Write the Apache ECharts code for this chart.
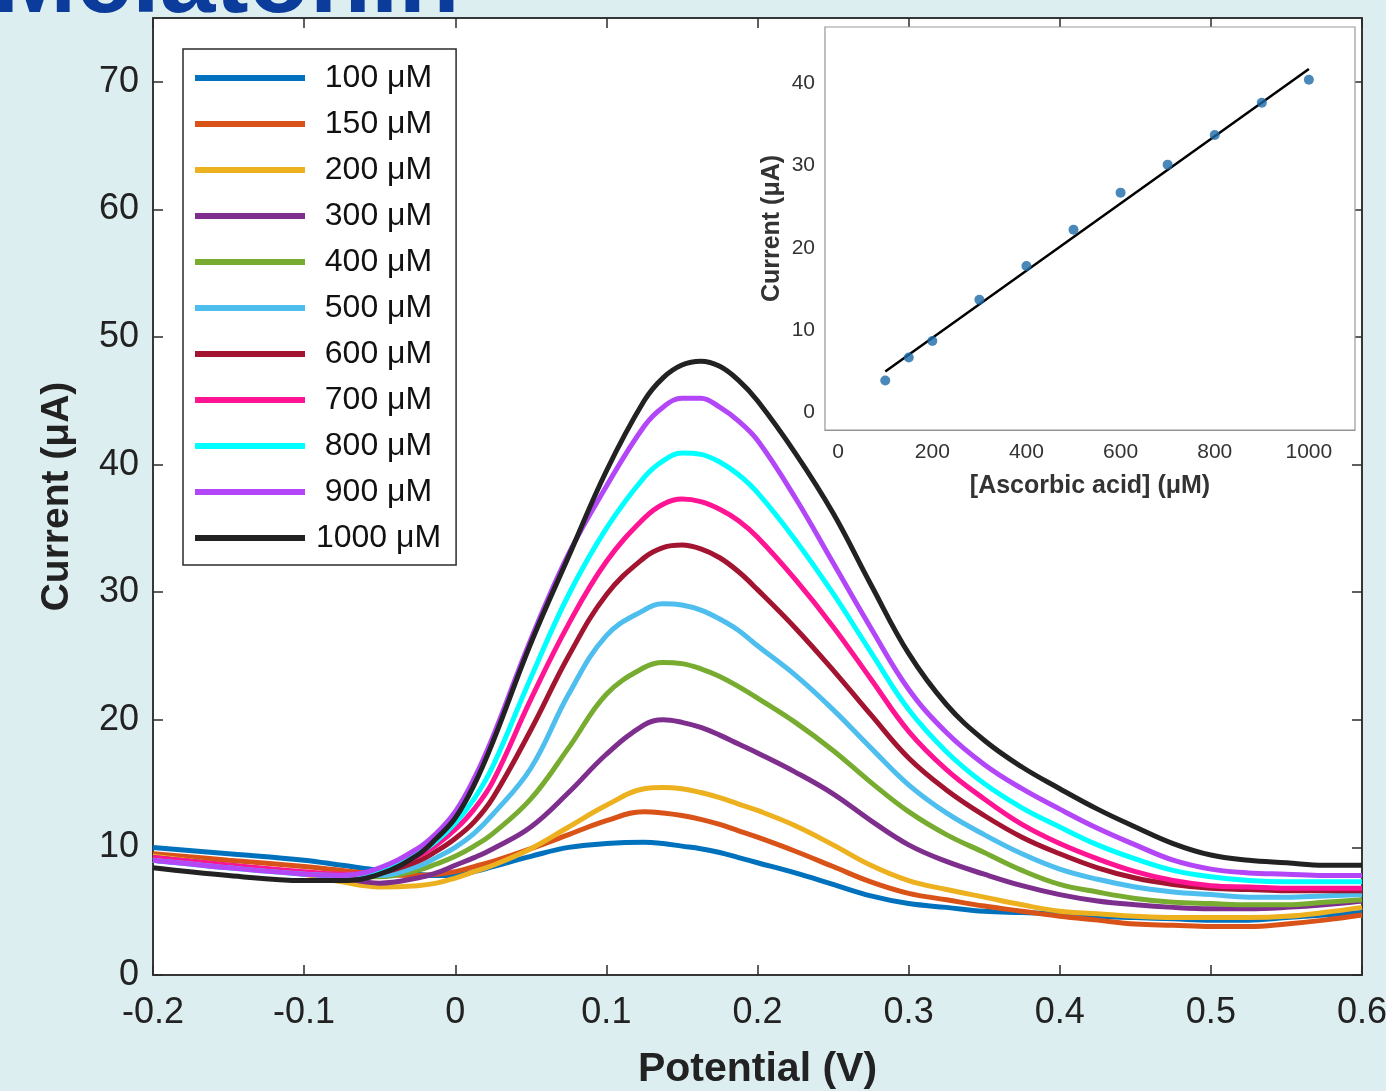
<!DOCTYPE html>
<html>
<head>
<meta charset="utf-8">
<script src="https://cdn.jsdelivr.net/npm/echarts@6/dist/echarts.min.js"></script>
<style>
html,body{margin:0;padding:0;background:#ddeef0;}
#chart{width:1386px;height:1091px;}
</style>
</head>
<body>
<div id="chart"></div>
<script>
// ---- data ----
const potential = [-0.2,-0.15,-0.1,-0.075,-0.05,-0.025,-0.0125,0,0.0125,0.025,0.05,0.075,0.1,0.125,0.1375,0.15,0.1625,0.175,0.1875,0.2,0.225,0.25,0.275,0.3,0.325,0.35,0.375,0.4,0.425,0.45,0.475,0.5,0.525,0.55,0.575,0.6];

const c100  = [10.0,9.5,9.0,8.6,8.2,7.9,7.8,7.8,8.1,8.5,9.3,10.0,10.3,10.4,10.3,10.1,9.9,9.6,9.2,8.8,8.0,7.1,6.2,5.6,5.3,5.0,4.9,4.8,4.6,4.5,4.4,4.3,4.3,4.5,4.7,4.9];
const c150  = [9.5,9.0,8.5,8.2,7.9,7.8,7.9,8.1,8.5,8.9,9.9,11.0,12.1,12.8,12.7,12.5,12.2,11.8,11.3,10.8,9.7,8.5,7.3,6.4,5.9,5.4,5.0,4.6,4.3,4.0,3.9,3.8,3.8,4.0,4.3,4.7];
const c200  = [9.3,8.6,7.9,7.3,6.9,7.0,7.2,7.6,8.1,8.6,9.9,11.6,13.3,14.6,14.7,14.6,14.3,13.9,13.4,12.9,11.7,10.2,8.6,7.4,6.7,6.1,5.5,5.0,4.8,4.6,4.5,4.5,4.5,4.6,4.9,5.3];
const c300  = [9.2,8.6,8.0,7.6,7.2,7.6,8.0,8.6,9.2,9.9,11.6,14.3,17.3,19.6,20.0,19.8,19.4,18.8,18.1,17.4,15.9,14.2,12.1,10.2,8.9,7.9,7.0,6.3,5.8,5.5,5.3,5.2,5.2,5.3,5.5,5.8];
const c400  = [9.0,8.5,8.0,7.8,7.7,8.2,8.7,9.3,10.1,11.1,13.8,17.8,22.0,24.1,24.5,24.4,24.0,23.4,22.6,21.7,19.8,17.6,15.1,12.8,11.0,9.6,8.2,7.1,6.5,6.0,5.7,5.6,5.5,5.5,5.7,5.9];
const c500  = [9.0,8.5,8.0,7.8,7.8,8.5,9.2,10.0,11.1,12.6,16.2,22.0,26.6,28.6,29.1,29.0,28.6,27.9,27.0,25.8,23.5,20.8,17.8,14.9,12.7,11.0,9.5,8.3,7.5,6.9,6.5,6.3,6.1,6.1,6.2,6.3];
const c600  = [9.0,8.5,8.0,7.8,8.0,8.9,9.7,10.7,12.0,13.9,19.2,25.0,29.8,32.7,33.5,33.7,33.4,32.7,31.6,30.2,27.2,23.9,20.4,17.0,14.5,12.5,10.8,9.5,8.4,7.6,7.1,6.8,6.7,6.6,6.6,6.6];
const c700  = [9.2,8.6,8.1,7.9,8.2,9.3,10.2,11.4,13.0,15.2,21.6,27.5,32.4,35.8,36.9,37.3,37.1,36.5,35.6,34.3,31.0,27.3,23.2,19.1,16.1,13.8,11.8,10.3,9.1,8.1,7.4,7.0,6.9,6.8,6.8,6.8];
const c800  = [9.0,8.4,7.9,7.8,8.2,9.5,10.5,11.9,13.8,16.4,23.3,29.8,35.0,39.0,40.3,40.9,40.8,40.2,39.2,37.8,34.1,29.9,25.3,20.8,17.5,15.0,13.1,11.6,10.2,9.1,8.2,7.7,7.4,7.3,7.3,7.3];
const c900  = [9.0,8.4,7.9,7.8,8.4,9.9,11.1,12.8,15.4,18.7,26.3,33.0,38.3,43.0,44.5,45.2,45.2,44.5,43.4,41.9,37.4,32.3,27.2,22.4,19.0,16.5,14.6,13.0,11.5,10.2,9.0,8.3,8.0,7.9,7.8,7.8];
const c1000 = [8.4,7.8,7.4,7.4,7.9,9.4,10.7,12.3,14.9,18.3,26.0,32.8,39.5,45.0,46.8,47.8,48.1,47.7,46.6,45.0,40.9,36.2,30.6,25.2,21.2,18.4,16.3,14.6,13.0,11.6,10.3,9.4,9.0,8.8,8.6,8.6];

const seriesNames = ['100 μM','150 μM','200 μM','300 μM','400 μM','500 μM','600 μM','700 μM','800 μM','900 μM','1000 μM'];
const seriesValues = [c100,c150,c200,c300,c400,c500,c600,c700,c800,c900,c1000];
const seriesColors = ['#0072BD','#D95319','#EDB120','#7E2F8E','#77AC30','#4DBEEE','#A2142F','#FF1493','#00FFFF','#B347F7','#222222'];

const xTicks = [-0.2,-0.1,0,0.1,0.2,0.3,0.4,0.5,0.6];
const yTicks = [0,10,20,30,40,50,60,70];

// inset: calibration
const insetConc = [100,150,200,300,400,500,600,700,800,900,1000];
const insetCurrent = [3.9,6.7,8.7,13.7,17.8,22.2,26.7,30.1,33.7,37.6,40.4];
const fitConc = [100,1000];
const fitCurrent = [5.0,41.7];
const insetXTicks = [0,200,400,600,800,1000];
const insetYTicks = [0,10,20,30,40];

// ---- chart ----
const FONT = '"Liberation Sans", Arial, sans-serif';
const chart = echarts.init(document.getElementById('chart'), null, {renderer:'canvas'});

const mainSeries = seriesNames.map((n,i)=>({
  name:n, type:'line', xAxisIndex:0, yAxisIndex:0,
  data: potential.map((v,j)=>[v, seriesValues[i][j]]),
  showSymbol:false, symbol:'none', smooth:0.4,
  color: seriesColors[i],
  lineStyle:{width:5, color:seriesColors[i]},
  z: 2 + i*0.01
}));

const dark = '#2b2b2b';
const axisDark = {onZero:false, lineStyle:{color:dark, width:1.5}};
const tickDark = {inside:true, length:10, lineStyle:{color:dark, width:1.5}};

chart.setOption({
  backgroundColor:'#ddeef0',
  animation:false,
  graphic:[{
    type:'text', left:-7, top:-66, z:10,
    style:{text:'Melatonin', font:'bold 100px '+FONT, fill:'#0b3c9c',
      shadowColor:'rgba(0,0,0,0.35)', shadowBlur:5, shadowOffsetX:3, shadowOffsetY:3}
  }],
  grid:[
    {left:153, top:18, right:24, bottom:116, show:true, backgroundColor:'#fff', borderColor:dark, borderWidth:1.5,
     outerBoundsMode:'none', containLabel:false},
    {left:825, top:27, width:530, height:403, show:true, backgroundColor:'#fff', borderColor:'#9a9a9a', borderWidth:1.2, z:5,
     outerBoundsMode:'none', containLabel:false}
  ],
  legend:{
    data:seriesNames, orient:'vertical', left:183, top:49,
    padding:[13,15,11,12], itemGap:14, itemWidth:110, itemHeight:6, icon:'rect',
    backgroundColor:'#fff', borderColor:dark, borderWidth:1.5,
    formatter: name => '{t|' + name + '}',
    textStyle:{fontSize:32, fontFamily:FONT, color:'#111', padding:[0,0,0,6],
      rich:{t:{width:125, align:'center', fontSize:32, lineHeight:32, fontFamily:FONT, color:'#111'}}}
  },
  xAxis:[
    {gridIndex:0, type:'value', min:-0.2, max:0.6, interval:0.1, position:'bottom',
     axisLine:axisDark, axisTick:Object.assign({customValues:xTicks}, tickDark),
     axisLabel:{fontSize:36, fontFamily:FONT, color:'#222', margin:20,
       customValues:xTicks, formatter:v=>String(Math.round(v*10)/10)},
     splitLine:{show:false},
     name:'Potential (V)', nameLocation:'middle', nameGap:74,
     nameTextStyle:{fontSize:41, fontWeight:'bold', fontFamily:FONT, color:'#222'}},
    {gridIndex:0, type:'value', min:-0.2, max:0.6, interval:0.1, position:'top',
     axisLine:axisDark, axisTick:Object.assign({customValues:xTicks}, tickDark),
     axisLabel:{show:false}, splitLine:{show:false}},
    {gridIndex:1, type:'value', min:-28, max:1098, position:'bottom',
     axisLine:{onZero:false, lineStyle:{color:'#8a8a8a', width:1.2}},
     axisTick:{inside:true, length:5, customValues:insetXTicks, lineStyle:{color:'#8a8a8a'}},
     axisLabel:{fontSize:21, fontFamily:FONT, color:'#333', margin:12, customValues:insetXTicks, formatter:v=>String(v)},
     splitLine:{show:false},
     name:'[Ascorbic acid] (μM)', nameLocation:'middle', nameGap:44,
     nameTextStyle:{fontSize:25, fontWeight:'bold', fontFamily:FONT, color:'#333'}}
  ],
  yAxis:[
    {gridIndex:0, type:'value', min:0, max:75, interval:10, position:'left',
     axisLine:axisDark, axisTick:Object.assign({customValues:yTicks}, tickDark),
     axisLabel:{fontSize:36, fontFamily:FONT, color:'#222', margin:14, customValues:yTicks},
     splitLine:{show:false},
     name:'Current (μA)', nameLocation:'middle', nameGap:76,
     nameTextStyle:{fontSize:39, fontWeight:'bold', fontFamily:FONT, color:'#222'}},
    {gridIndex:0, type:'value', min:0, max:75, interval:10, position:'right',
     axisLine:axisDark, axisTick:Object.assign({customValues:yTicks}, tickDark),
     axisLabel:{show:false}, splitLine:{show:false}},
    {gridIndex:1, type:'value', min:-2.1, max:46.8, position:'left',
     axisLine:{onZero:false, lineStyle:{color:'#8a8a8a', width:1.2}},
     axisTick:{inside:true, length:5, customValues:insetYTicks, lineStyle:{color:'#8a8a8a'}},
     axisLabel:{fontSize:21, fontFamily:FONT, color:'#333', margin:10, customValues:insetYTicks},
     splitLine:{show:false},
     name:'Current (μA)', nameLocation:'middle', nameGap:40,
     nameTextStyle:{fontSize:25, fontWeight:'bold', fontFamily:FONT, color:'#333'}}
  ],
  series: mainSeries.concat([
    {name:'fit', type:'line', xAxisIndex:2, yAxisIndex:2, z:10,
     data: fitConc.map((v,i)=>[v, fitCurrent[i]]), showSymbol:false, symbol:'none',
     lineStyle:{color:'#000', width:2.5}},
    {name:'calibration', type:'scatter', xAxisIndex:2, yAxisIndex:2, z:11,
     data: insetConc.map((v,i)=>[v, insetCurrent[i]]), symbolSize:10,
     itemStyle:{color:'#1d6aa8'}}
  ])
});
</script>
</body>
</html>
